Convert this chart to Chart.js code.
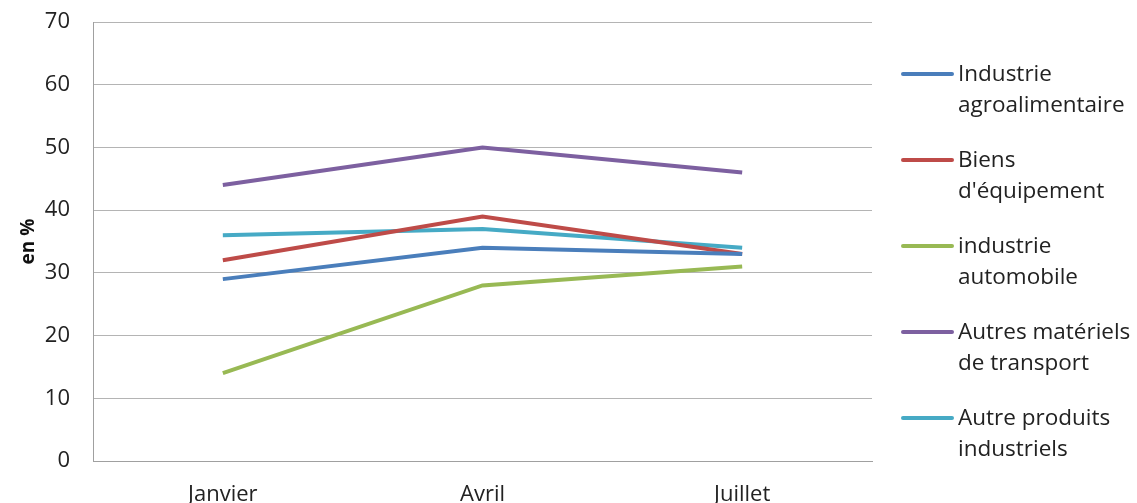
<!DOCTYPE html>
<html lang="fr">
<head>
  <meta charset="UTF-8" />
  <title>en %</title>
  <script src="https://cdn.jsdelivr.net/npm/chart.js"></script>
  <style>
    body {
      margin: 0;
      background: white;
      overflow: hidden;
      font-family: 'Open Sans', sans-serif;
    }
    .wrap {
      position: relative;
      width: 1137px;
      height: 510px;
    }
    .legend {
      position: absolute;
      left: 901px;
      top: 57px;
      color: #222;
      font-size: 22.5px;
      line-height: 31px;
    }
    .item {
      position: relative;
      padding-left: 57px;
      height: 86px;
    }
    .item span {
      position: absolute;
      left: 0;
      top: 15px;
      width: 53px;
      height: 4px;
      border-radius: 2px;
    }
  </style>
</head>
<body>
<div class="wrap">
  <canvas id="chart"></canvas>
  <div class="legend" id="legend"></div>
</div>
<script>
  const months = ['Janvier', 'Avril', 'Juillet'];
  const seriesNames = [
    ['Industrie', 'agroalimentaire'],
    ['Biens', "d'équipement"],
    ['industrie', 'automobile'],
    ['Autres matériels', 'de transport'],
    ['Autre produits', 'industriels']
  ];
  const agro = [29, 34, 33];
  const equipement = [32, 39, 33];
  const automobile = [14, 28, 31];
  const transport = [44, 50, 46];
  const autres = [36, 37, 34];
  const colors = ['#4a7ebb', '#be4b48', '#98b954', '#7d60a0', '#46aac5'];

  const values = [agro, equipement, automobile, transport, autres];
  const font = "'Open Sans', sans-serif";

  // legende html (libelles sur deux lignes)
  const legend = document.getElementById('legend');
  seriesNames.forEach((name, i) => {
    legend.innerHTML += '<div class="item"><span style="background:' + colors[i] + '"></span>' +
      name[0] + '<br>' + name[1] + '</div>';
  });

  new Chart(document.getElementById('chart'), {
    type: 'line',
    data: {
      labels: months,
      datasets: values.map((v, i) => ({
        label: seriesNames[i].join(' '),
        data: v,
        borderColor: colors[i],
        backgroundColor: colors[i],
        borderWidth: 4,
        pointRadius: 0,
        tension: 0
      }))
    },
    options: {
      responsive: true,
      maintainAspectRatio: false,
      animation: false,
      layout: { padding: { top: 22, right: 265, bottom: 0, left: 0 } },
      plugins: {
        legend: { display: false },
        tooltip: { enabled: false }
      },
      scales: {
        x: {
          offset: true,
          afterFit: s => { s.height = 49; },
          grid: { display: false, drawTicks: false },
          border: { color: '#a0a0a0', width: 1 },
          ticks: { color: '#222', padding: 21, font: { family: font, size: 22 } }
        },
        y: {
          min: 0,
          max: 70,
          afterFit: s => { s.width = 93; s.paddingTop = 0; s.paddingBottom = 0; },
          grid: { color: '#b4b4b4', drawTicks: false },
          border: { color: '#a0a0a0', width: 1 },
          ticks: { stepSize: 10, color: '#222', padding: 23, font: { family: font, size: 22 } },
          title: {
            display: true,
            text: 'en %',
            color: '#111',
            padding: { top: 17, bottom: 0 },
            font: { family: font, size: 19, weight: 'bold' }
          }
        }
      }
    }
  });
</script>
</body>
</html>
